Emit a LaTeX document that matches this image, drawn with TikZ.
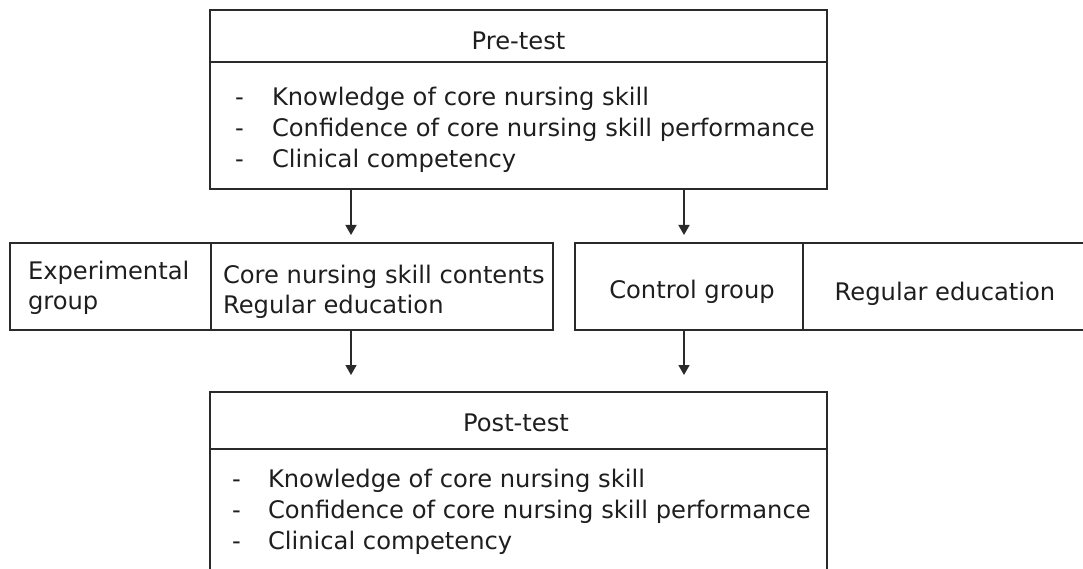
\documentclass[tikz,border=0pt]{standalone}
\usepackage{fontspec}
\setmainfont{DejaVu Sans}
\usetikzlibrary{arrows.meta}
\definecolor{ink}{HTML}{1E1E1E}
\definecolor{rule}{HTML}{2A2A2A}
\begin{document}
\begin{tikzpicture}[x=1pt,y=-1pt,
  cell/.style={draw=rule, line width=1.8pt, inner sep=0pt, outer sep=0pt, rectangle},
  txt/.style={inner sep=0pt, outer sep=0pt, text=ink, font=\fontsize{24.2}{31}\selectfont},
  lt/.style={txt, anchor=base west},
  ct/.style={txt, anchor=base},
  arr/.style={draw=rule, line width=1.6pt, -{Triangle[length=10pt,width=11pt]}}]
\useasboundingbox (0,0) rectangle (1083,569);
\clip (0,0) rectangle (1083,569);

% pre-test block
\node[cell, minimum width=617pt, minimum height=52pt] (prehead) at (518.5,36) {};
\node[cell, minimum width=617pt, minimum height=127pt] (prebody) at (518.5,125.5) {};
\node[ct] (pretitle) at (518.5,50) {Pre-test};
\node[lt] (pred1) at (235,106) {-};
\node[lt] (pred2) at (235,137) {-};
\node[lt] (pred3) at (235,168) {-};
\node[lt] (pre1) at (272,106) {Knowledge of core nursing skill};
\node[lt] (pre2) at (272,137) {Confidence of core nursing skill performance};
\node[lt] (pre3) at (272,168) {Clinical competency};

% experimental group
\node[cell, minimum width=201pt, minimum height=87pt] (explabel) at (110.5,286.5) {};
\node[cell, minimum width=342pt, minimum height=87pt] (expbody) at (382,286.5) {};
\node[lt] (exp1) at (28,279) {Experimental};
\node[lt] (exp2) at (28,309) {group};
\node[lt] (expc1) at (223,283) {Core nursing skill contents};
\node[lt] (expc2) at (223,313) {Regular education};

% control group
\node[cell, minimum width=228pt, minimum height=87pt] (ctrllabel) at (689,286.5) {};
\node[cell, minimum width=287pt, minimum height=87pt] (ctrlbody) at (946.5,286.5) {};
\node[ct] (ctrl1) at (692,298) {Control group};
\node[ct] (ctrl2) at (945,300) {Regular education};

% post-test block
\node[cell, minimum width=617pt, minimum height=57pt] (posthead) at (518.5,420.5) {};
\node[cell, minimum width=617pt, minimum height=151pt] (postbody) at (518.5,524.5) {};
\node[ct] (posttitle) at (516,431) {Post-test};
\node[lt] (postd1) at (232,487) {-};
\node[lt] (postd2) at (232,518) {-};
\node[lt] (postd3) at (232,549) {-};
\node[lt] (post1) at (268,487) {Knowledge of core nursing skill};
\node[lt] (post2) at (268,518) {Confidence of core nursing skill performance};
\node[lt] (post3) at (268,549) {Clinical competency};

% flow arrows
\coordinate (lane1) at (351,0);
\coordinate (lane2) at (684,0);
\draw[arr, shorten <=1pt, shorten >=8pt] (prebody.south -| lane1) -- (expbody.north -| lane1);
\draw[arr, shorten <=1pt, shorten >=8pt] (prebody.south -| lane2) -- (ctrllabel.north -| lane2);
\draw[arr, shorten <=1pt, shorten >=17pt] (expbody.south -| lane1) -- (posthead.north -| lane1);
\draw[arr, shorten <=1pt, shorten >=17pt] (ctrllabel.south -| lane2) -- (posthead.north -| lane2);
\end{tikzpicture}
\end{document}
